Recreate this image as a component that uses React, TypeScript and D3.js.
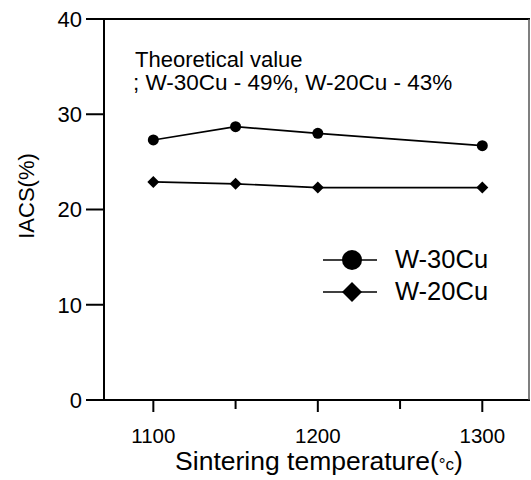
import React from "react";
import * as d3 from "d3";

const temps = [1100, 1150, 1200, 1300];
const w30cu = [27.3, 28.7, 28.0, 26.7];
const w20cu = [22.9, 22.7, 22.3, 22.3];
const yTicks = [0, 10, 20, 30, 40];
const xMajorTicks = [1100, 1200, 1300];
const xMinorTicks = [1150, 1250];
const seriesNames = ["W-30Cu", "W-20Cu"];
const noteLines = ["Theoretical value", "; W-30Cu - 49%, W-20Cu - 43%"];

const W = 531;
const H = 480;
const font = "'Liberation Sans', Arial, Helvetica, sans-serif";

export default function App() {
  const x = d3.scaleLinear().domain([1070, 1329]).range([104, 530]);
  const y = d3.scaleLinear().domain([0, 40]).range([400, 19]);
  const line = d3
    .line<[number, number]>()
    .x((d) => x(d[0]))
    .y((d) => y(d[1]));
  const d30 = temps.map((t, i) => [t, w30cu[i]] as [number, number]);
  const d20 = temps.map((t, i) => [t, w20cu[i]] as [number, number]);
  const diamondSmall = d3.symbol().type(d3.symbolSquare).size(72)()!;
  const diamondBig = d3.symbol().type(d3.symbolSquare).size(200)()!;
  const [x0, x1] = x.range();
  const [yb, yt] = y.range();

  return (
    <svg
      width={W}
      height={H}
      style={{ position: "absolute", left: 0, top: 0, background: "#fff" }}
      fontFamily={font}
    >
      {/* frame */}
      <line x1={x0} x2={x0} y1={yt} y2={yb} stroke="#000" strokeWidth={2} />
      <line x1={86} x2={x1} y1={yt} y2={yt} stroke="#000" strokeWidth={2} />
      <line x1={86} x2={x1} y1={yb} y2={yb} stroke="#000" strokeWidth={2} />
      <line x1={x1 - 1} x2={x1 - 1} y1={yt} y2={yb} stroke="#555" strokeWidth={1.5} />

      {/* y ticks */}
      {yTicks.map((v) => (
        <g key={v}>
          <line x1={86} x2={x0} y1={y(v)} y2={y(v)} stroke="#000" strokeWidth={2} />
          <text x={82} y={y(v)} dy="0.36em" textAnchor="end" fontSize={22}>
            {v}
          </text>
        </g>
      ))}

      {/* x ticks */}
      {xMajorTicks.map((v) => (
        <g key={v}>
          <line x1={x(v)} x2={x(v)} y1={yb} y2={yb + 12} stroke="#000" strokeWidth={2} />
          <text x={x(v)} y={443} textAnchor="middle" fontSize={20.5}>
            {v}
          </text>
        </g>
      ))}
      {xMinorTicks.map((v) => (
        <line key={v} x1={x(v)} x2={x(v)} y1={yb} y2={yb + 9} stroke="#000" strokeWidth={2} />
      ))}

      {/* axis titles */}
      <text x={319} y={470} textAnchor="middle" fontSize={26.5}>
        Sintering temperature(<tspan fontSize={17}>°c</tspan>)
      </text>
      <text
        transform={`translate(34,196) rotate(-90)`}
        textAnchor="middle"
        fontSize={22}
      >
        IACS(%)
      </text>

      {/* note */}
      <text x={135} y={67} fontSize={22}>
        {noteLines[0]}
      </text>
      <text x={133} y={90} fontSize={22.5}>
        {noteLines[1]}
      </text>

      {/* series */}
      <path d={line(d30)!} fill="none" stroke="#000" strokeWidth={1.7} />
      <path d={line(d20)!} fill="none" stroke="#000" strokeWidth={1.7} />
      {d30.map((d, i) => (
        <circle key={i} cx={x(d[0])} cy={y(d[1])} r={5.5} fill="#000" />
      ))}
      {d20.map((d, i) => (
        <path
          key={i}
          d={diamondSmall}
          transform={`translate(${x(d[0])},${y(d[1])}) rotate(45)`}
          fill="#000"
        />
      ))}

      {/* legend */}
      <line x1={323} x2={377} y1={260} y2={260} stroke="#000" strokeWidth={1.5} />
      <circle cx={352} cy={260} r={10} fill="#000" />
      <text x={395} y={268} fontSize={25.5}>
        {seriesNames[0]}
      </text>
      <line x1={323} x2={377} y1={292} y2={292} stroke="#000" strokeWidth={1.5} />
      <path d={diamondBig} transform={`translate(352,292) rotate(45)`} fill="#000" />
      <text x={395} y={300} fontSize={25.5}>
        {seriesNames[1]}
      </text>
    </svg>
  );
}
